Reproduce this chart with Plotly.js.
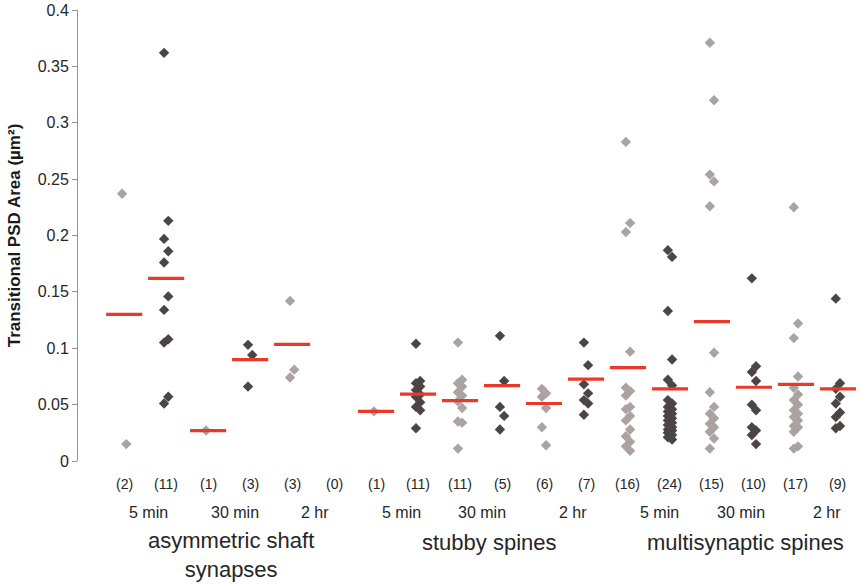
<!DOCTYPE html>
<html>
<head>
<meta charset="utf-8">
<script src="https://cdn.plot.ly/plotly-3.0.1.min.js"></script>
<style>html,body{margin:0;padding:0;background:#fff;}#chart{width:861px;height:585px;}</style>
</head>
<body>
<div id="chart"></div>
<script>
// Transitional PSD area (µm²) per column
const asym5Light   = [0.237, 0.015];
const asym5Dark    = [0.362, 0.213, 0.197, 0.186, 0.176, 0.146, 0.134, 0.108, 0.105, 0.057, 0.051];
const asym30Light  = [0.027];
const asym30Dark   = [0.103, 0.094, 0.066];
const asym2hLight  = [0.142, 0.081, 0.074];
const asym2hDark   = [];
const stub5Light   = [0.044];
const stub5Dark    = [0.104, 0.071, 0.069, 0.066, 0.063, 0.059, 0.057, 0.052, 0.048, 0.045, 0.029];
const stub30Light  = [0.105, 0.072, 0.069, 0.066, 0.061, 0.058, 0.053, 0.047, 0.035, 0.034, 0.011];
const stub30Dark   = [0.111, 0.071, 0.048, 0.040, 0.028];
const stub2hLight  = [0.064, 0.060, 0.057, 0.047, 0.030, 0.014];
const stub2hDark   = [0.105, 0.085, 0.068, 0.060, 0.054, 0.051, 0.041];
const multi5Light  = [0.283, 0.211, 0.203, 0.097, 0.065, 0.062, 0.058, 0.048, 0.046, 0.040, 0.036, 0.028, 0.022, 0.017, 0.013, 0.009];
const multi5Dark   = [0.187, 0.181, 0.133, 0.090, 0.072, 0.067, 0.054, 0.051, 0.048, 0.046, 0.044, 0.042, 0.040, 0.038, 0.036, 0.034, 0.032, 0.030, 0.028, 0.027, 0.025, 0.023, 0.021, 0.019];
const multi30Light = [0.371, 0.320, 0.254, 0.248, 0.226, 0.096, 0.061, 0.048, 0.042, 0.038, 0.033, 0.030, 0.026, 0.020, 0.011];
const multi30Dark  = [0.162, 0.084, 0.079, 0.071, 0.050, 0.045, 0.030, 0.027, 0.023, 0.015];
const multi2hLight = [0.225, 0.122, 0.109, 0.075, 0.065, 0.059, 0.054, 0.050, 0.045, 0.042, 0.039, 0.036, 0.031, 0.030, 0.026, 0.013, 0.011];
const multi2hDark  = [0.144, 0.069, 0.064, 0.057, 0.051, 0.043, 0.039, 0.031, 0.029];

// Mean lines (red bars) as drawn in the figure
const means = [0.130, 0.162, 0.027, 0.090, 0.1035, null,
               0.044, 0.0594, 0.0535, 0.0668, 0.051, 0.0727,
               0.0828, 0.0639, 0.1236, 0.0654, 0.068, 0.0639];

const timeLabels  = ['5 min', '30 min', '2 hr', '5 min', '30 min', '2 hr', '5 min', '30 min', '2 hr'];
const groupLabels = ['asymmetric shaft<br>synapses', 'stubby spines', 'multisynaptic spines'];
const yTicks = [0, 0.05, 0.1, 0.15, 0.2, 0.25, 0.3, 0.35, 0.4];

const columns = [asym5Light, asym5Dark, asym30Light, asym30Dark, asym2hLight, asym2hDark,
                 stub5Light, stub5Dark, stub30Light, stub30Dark, stub2hLight, stub2hDark,
                 multi5Light, multi5Dark, multi30Light, multi30Dark, multi2hLight, multi2hDark];

const LIGHT = '#aaa3a1', DARK = '#4b4644', RED = '#e8392a';
const traces = [];
columns.forEach((vals, i) => {
  traces.push({
    type: 'scatter', mode: 'markers',
    x: vals.map((v, k) => i + (k % 2 ? 0.05 : -0.05)),
    y: vals,
    marker: {symbol: 'diamond', size: 8, color: i % 2 === 0 ? LIGHT : DARK, line: {width: 0}},
    hoverinfo: 'y', showlegend: false
  });
});
// mean bars
const mx = [], my = [];
means.forEach((m, i) => {
  if (m === null) return;
  mx.push(i - 0.43, i + 0.43, null);
  my.push(m, m, null);
});
traces.push({type: 'scatter', mode: 'lines', x: mx, y: my,
  line: {color: RED, width: 3.2}, hoverinfo: 'skip', showlegend: false});

const FONT = 'Liberation Sans, Arial, sans-serif';
const annotations = [];
columns.forEach((vals, i) => {
  annotations.push({x: i, y: 0, xref: 'x', yref: 'paper', yshift: -23, yanchor: 'middle',
    text: '(' + vals.length + ')', showarrow: false, font: {family: FONT, size: 14, color: '#262626'}});
});
const timePos = [0.57, 2.64, 4.55, 6.61, 8.52, 10.7, 12.76, 14.7, 16.73];
timeLabels.forEach((t, i) => {
  annotations.push({x: timePos[i], y: 0, xref: 'x', yref: 'paper', yshift: -51, yanchor: 'middle',
    text: t, showarrow: false, font: {family: FONT, size: 16, color: '#262626'}});
});
const groupPos = [2.55, 8.7, 14.8];
groupLabels.forEach((g, i) => {
  const twoLine = g.indexOf('<br>') >= 0;
  annotations.push({x: groupPos[i], y: 0, xref: 'x', yref: 'paper',
    yshift: twoLine ? -123 : -81, yanchor: twoLine ? 'bottom' : 'middle',
    text: g, showarrow: false, font: {family: FONT, size: 22, color: '#262626'}});
});

const layout = {
  width: 861, height: 585,
  margin: {l: 78, r: 0, t: 10, b: 124, pad: 0},
  paper_bgcolor: '#ffffff', plot_bgcolor: '#ffffff',
  showlegend: false,
  xaxis: {range: [-1.1, 17.55], showline: false, showticklabels: false, ticks: '',
          showgrid: false, zeroline: false, fixedrange: true},
  yaxis: {range: [0, 0.4], tickvals: yTicks, ticktext: yTicks.map(v => String(v)),
          showline: true, linecolor: '#9a9390', linewidth: 1,
          ticks: 'outside', ticklen: 5, tickcolor: '#9a9390', tickwidth: 1,
          showgrid: false, zeroline: false,
          tickfont: {family: FONT, size: 16, color: '#262626'},
          title: {text: 'Transitional PSD Area (µm²)', standoff: 12,
                  font: {family: FONT, size: 17, color: '#1a1a1a', weight: 'bold'}}},
  annotations: annotations
};
Plotly.newPlot('chart', traces, layout, {displayModeBar: false, staticPlot: true});
</script>
</body>
</html>
